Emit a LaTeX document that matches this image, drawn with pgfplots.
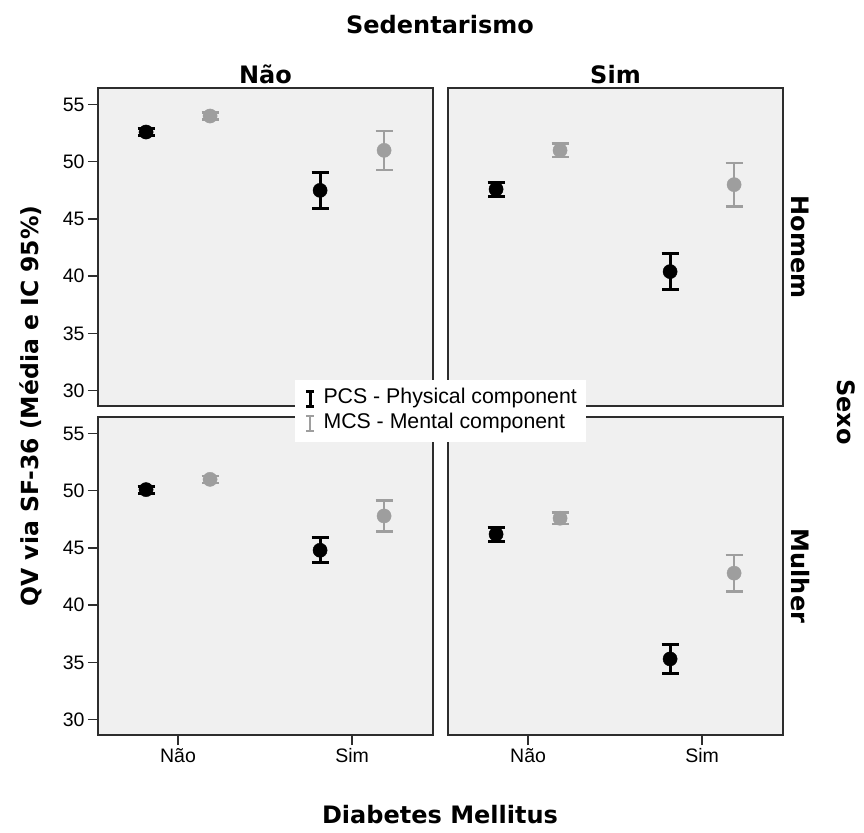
\documentclass[border=0pt]{standalone}
\usepackage{fontspec}
\setmainfont{Liberation Sans}
\newfontfamily\djv{DejaVu Sans}
\usepackage{pgfplots}
\pgfplotsset{compat=1.18}
\usepackage{pgfplotstable}

\definecolor{panelbg}{RGB}{240,240,240}
\definecolor{mcsgray}{RGB}{158,158,158}
\definecolor{framec}{RGB}{45,45,45}

% dm: Diabetes Mellitus (0 = Não, 1 = Sim); means and half-width of 95% CI
\pgfplotstableread{
dm pcs pcsci mcs mcsci
0  52.6 0.30 54.0 0.30
1  47.5 1.60 51.0 1.70
}\homemnao
\pgfplotstableread{
dm pcs pcsci mcs mcsci
0  47.6 0.60 51.0 0.60
1  40.4 1.60 48.0 1.90
}\homemsim
\pgfplotstableread{
dm pcs pcsci mcs mcsci
0  50.1 0.30 51.0 0.30
1  44.8 1.10 47.8 1.35
}\mulhernao
\pgfplotstableread{
dm pcs pcsci mcs mcsci
0  46.2 0.60 47.6 0.50
1  35.3 1.25 42.8 1.60
}\mulhersim

\pgfplotsset{
  panel/.style={
    scale only axis, width=335pt, height=318pt,
    xmin=-0.46, xmax=1.465, ymin=28.65, ymax=56.45,
    axis background/.style={fill=panelbg},
    axis line style={framec, line width=1.4pt},
    major tick style={framec, line width=1.4pt},
    major tick length=10pt, tick align=outside,
    xtick={0,1}, xticklabels={Não,Sim},
    ytick={30,35,40,45,50,55},
    tick label style={font=\fontsize{19.5}{22}\selectfont},
    /pgf/number format/assume math mode=true,
  },
  pcs/.style={only marks, mark=*, mark size=7.1pt, black, xshift=-32pt,
    error bars/.cd, y dir=both, y explicit,
    error bar style={black, line width=3pt},
    error mark options={rotate=90, black, mark size=8.5pt, line width=3pt}},
  mcs/.style={only marks, mark=*, mark size=7.1pt, mcsgray, xshift=32pt,
    error bars/.cd, y dir=both, y explicit,
    error bar style={mcsgray, line width=2.5pt},
    error mark options={rotate=90, mcsgray, mark size=8.5pt, line width=2.5pt}},
}

\begin{document}
\begin{tikzpicture}
\useasboundingbox (0pt,0pt) rectangle (864pt,832pt);

% Homem / Não
\begin{axis}[panel, at={(98pt,744pt)}, anchor=north west, xtick=\empty, ytick pos=left]
\addplot[pcs] table[x=dm, y=pcs, y error=pcsci] {\homemnao};
\addplot[mcs] table[x=dm, y=mcs, y error=mcsci] {\homemnao};
\end{axis}

% Homem / Sim
\begin{axis}[panel, at={(448pt,744pt)}, anchor=north west, xtick=\empty, ytick=\empty]
\addplot[pcs] table[x=dm, y=pcs, y error=pcsci] {\homemsim};
\addplot[mcs] table[x=dm, y=mcs, y error=mcsci] {\homemsim};
\end{axis}

% Mulher / Não
\begin{axis}[panel, at={(98pt,415pt)}, anchor=north west, ytick pos=left, xtick pos=bottom]
\addplot[pcs] table[x=dm, y=pcs, y error=pcsci] {\mulhernao};
\addplot[mcs] table[x=dm, y=mcs, y error=mcsci] {\mulhernao};
\end{axis}

% Mulher / Sim (carries the legend so it sits on top)
\begin{axis}[panel, at={(448pt,415pt)}, anchor=north west, ytick=\empty, xtick pos=bottom,
  legend style={at={(-0.457,1.116)}, anchor=north west, fill=white, draw=none,
    font=\fontsize{21.3}{25}\selectfont, inner xsep=7pt, inner ysep=6.5pt,
    row sep=1pt, cells={anchor=west},
    nodes={inner xsep=2pt, inner ysep=2pt, text height=15pt, text depth=5pt}},
  legend cell align=left,
]
\addlegendimage{legend image code/.code={
  \path (0pt,0pt) (19pt,0pt);
  \draw[black, line width=2.6pt] (8pt,-7.5pt) -- (8pt,7.5pt) (4pt,7.5pt) -- (12pt,7.5pt) (4pt,-7.5pt) -- (12pt,-7.5pt);}}
\addlegendentry{PCS - Physical component}
\addlegendimage{legend image code/.code={
  \path (0pt,0pt) (19pt,0pt);
  \draw[mcsgray, line width=1.8pt] (8pt,-7.5pt) -- (8pt,7.5pt) (4pt,7.5pt) -- (12pt,7.5pt) (4pt,-7.5pt) -- (12pt,-7.5pt);}}
\addlegendentry{MCS - Mental component}
\addplot[forget plot, pcs] table[x=dm, y=pcs, y error=pcsci] {\mulhersim};
\addplot[forget plot, mcs] table[x=dm, y=mcs, y error=mcsci] {\mulhersim};
\end{axis}

% facet and axis titles
\node[font=\djv\bfseries\fontsize{24}{28}\selectfont, anchor=base] at (440pt,798pt) {Sedentarismo};
\node[font=\djv\bfseries\fontsize{24}{28}\selectfont, anchor=base] at (265.5pt,748pt) {Não};
\node[font=\djv\bfseries\fontsize{24}{28}\selectfont, anchor=base] at (615.5pt,748pt) {Sim};
\node[font=\djv\bfseries\fontsize{24}{28}\selectfont, rotate=-90] at (800pt,585pt) {Homem};
\node[font=\djv\bfseries\fontsize{24}{28}\selectfont, rotate=-90] at (800pt,256pt) {Mulher};
\node[font=\djv\bfseries\fontsize{24}{28}\selectfont, rotate=-90] at (846pt,420pt) {Sexo};
\node[font=\djv\bfseries\fontsize{23.5}{28}\selectfont, rotate=90] at (31pt,426pt) {QV via SF-36 (Média e IC 95\%)};
\node[font=\djv\bfseries\fontsize{24}{28}\selectfont, anchor=base] at (440pt,9pt) {Diabetes Mellitus};
\end{tikzpicture}
\end{document}
